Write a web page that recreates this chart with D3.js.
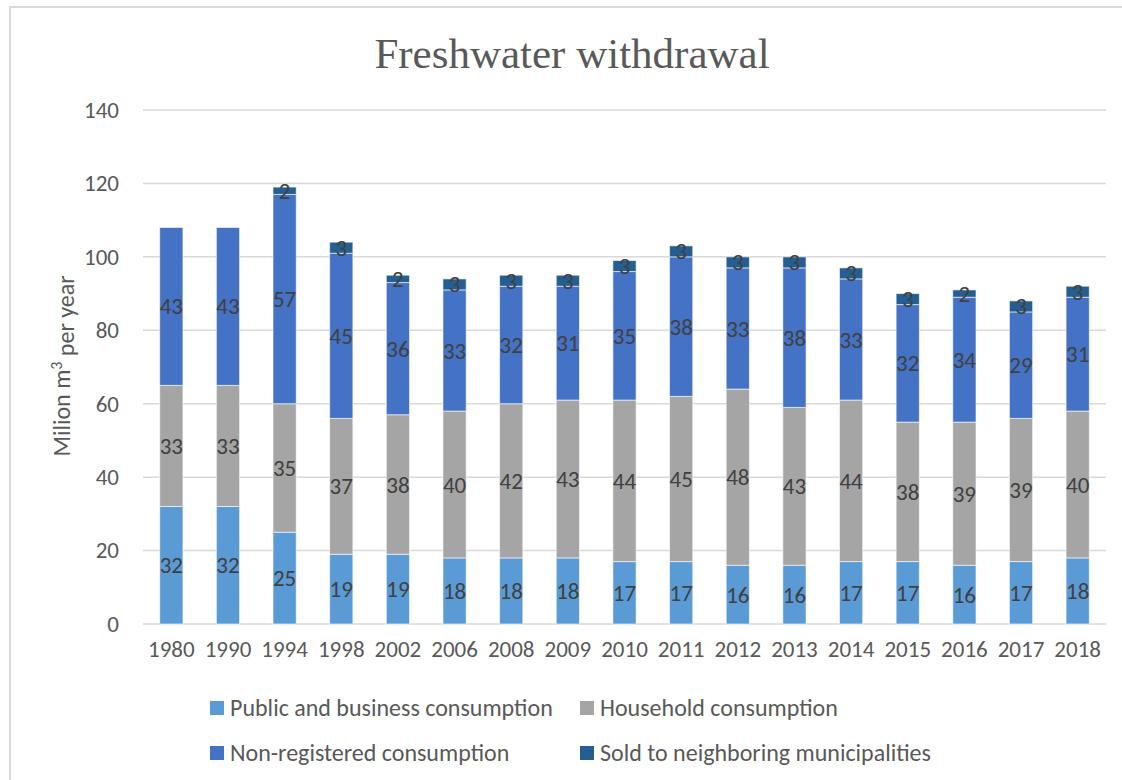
<!DOCTYPE html>
<html>
<head>
<meta charset="utf-8">
<script src="https://cdn.jsdelivr.net/npm/d3@7"></script>
<style>
    body { margin: 0; background: #fff; }
    text { font-family: Carlito, Lato, "Open Sans", sans-serif; }
</style>
</head>
<body>
<svg id="chart" width="1122" height="780"></svg>
<script>
    // data
    var years = ["1980", "1990", "1994", "1998", "2002", "2006", "2008", "2009", "2010", "2011", "2012", "2013", "2014", "2015", "2016", "2017", "2018"];
    var publicBusiness = [32, 32, 25, 19, 19, 18, 18, 18, 17, 17, 16, 16, 17, 17, 16, 17, 18];
    var household = [33, 33, 35, 37, 38, 40, 42, 43, 44, 45, 48, 43, 44, 38, 39, 39, 40];
    var nonRegistered = [43, 43, 57, 45, 36, 33, 32, 31, 35, 38, 33, 38, 33, 32, 34, 29, 31];
    var soldNeighbours = [0, 0, 2, 3, 2, 3, 3, 3, 3, 3, 3, 3, 3, 3, 2, 3, 3];
    var seriesNames = ["Public and business consumption", "Household consumption", "Non-registered consumption", "Sold to neighboring municipalities"];
    var seriesColors = ["#5b9bd5", "#a5a5a5", "#4472c4", "#255e91"];
    var yTicks = [0, 20, 40, 60, 80, 100, 120, 140];

    var svg = d3.select("#chart");

    // outer frame
    svg.append("rect")
        .attr("x", 10).attr("y", 7)
        .attr("width", 1130).attr("height", 800)
        .attr("fill", "none").attr("stroke", "#d9d9d9").attr("stroke-width", 2);

    svg.append("text")
        .attr("x", 572).attr("y", 68)
        .attr("text-anchor", "middle")
        .style("font-family", "'Liberation Serif', 'Times New Roman', serif")
        .style("font-size", "43px")
        .attr("fill", "#595959")
        .text("Freshwater withdrawal");

    var x = d3.scaleBand().domain(years).range([143, 1106]).paddingInner(0.59).paddingOuter(0.295);
    var y = d3.scaleLinear().domain([0, 140]).range([624, 110]);

    // gridlines
    svg.append("g").selectAll("line")
        .data(yTicks).enter()
        .append("line")
        .attr("x1", 143).attr("x2", 1106)
        .attr("y1", function(d) { return y(d); })
        .attr("y2", function(d) { return y(d); })
        .attr("stroke", "#d9d9d9").attr("stroke-width", 1.5);

    // y axis labels
    var yAxis = svg.append("g")
        .attr("transform", "translate(130,0)")
        .call(d3.axisLeft(y).tickValues(yTicks).tickSize(0).tickPadding(11));
    yAxis.select(".domain").remove();
    yAxis.selectAll("text")
        .style("font-size", "23px")
        .style("font-family", "Carlito, Lato, 'Open Sans', sans-serif")
        .attr("fill", "#595959");

    // x axis labels
    var xAxis = svg.append("g")
        .attr("transform", "translate(0,624)")
        .call(d3.axisBottom(x).tickSize(0).tickPadding(17));
    xAxis.select(".domain").remove();
    xAxis.selectAll("text")
        .style("font-size", "23px")
        .style("font-family", "Carlito, Lato, 'Open Sans', sans-serif")
        .attr("fill", "#595959");

    // stack the series
    var rows = years.map(function(yr, i) {
        return { year: yr, s0: publicBusiness[i], s1: household[i], s2: nonRegistered[i], s3: soldNeighbours[i] };
    });
    var stacked = d3.stack().keys(["s0", "s1", "s2", "s3"])(rows);

    var layers = svg.append("g").selectAll("g")
        .data(stacked).enter()
        .append("g")
        .attr("fill", function(d, i) { return seriesColors[i]; });

    layers.selectAll("rect")
        .data(function(d) { return d; }).enter()
        .filter(function(d) { return d[1] - d[0] > 0; })
        .append("rect")
        .attr("x", function(d) { return x(d.data.year); })
        .attr("width", x.bandwidth())
        .attr("y", function(d) { return y(d[1]); })
        .attr("height", function(d) { return y(d[0]) - y(d[1]); })
        .attr("stroke", "#ffffff").attr("stroke-opacity", 0.6).attr("stroke-width", 1);

    layers.selectAll("text")
        .data(function(d) { return d; }).enter()
        .filter(function(d) { return d[1] - d[0] > 0; })
        .append("text")
        .attr("x", function(d) { return x(d.data.year) + x.bandwidth() / 2; })
        .attr("y", function(d) { return y((d[0] + d[1]) / 2); })
        .attr("dy", "0.35em")
        .attr("text-anchor", "middle")
        .attr("fill", "#404040")
        .style("font-size", "23px")
        .text(function(d) { return d[1] - d[0]; });

    // axis title
    var yt = svg.append("text")
        .attr("transform", "translate(70,366) rotate(-90)")
        .attr("text-anchor", "middle")
        .attr("fill", "#595959")
        .style("font-size", "24px");
    yt.append("tspan").text("Milion m");
    yt.append("tspan").attr("dy", "-0.5em").style("font-size", "16px").text("3");
    yt.append("tspan").attr("dy", "0.5em").text(" per year");

    // legend
    var legendPos = [[210, 708], [580, 708], [210, 753], [580, 753]];
    var legend = svg.append("g").selectAll("g")
        .data(seriesNames).enter()
        .append("g")
        .attr("transform", function(d, i) { return "translate(" + legendPos[i][0] + "," + legendPos[i][1] + ")"; });
    legend.append("rect")
        .attr("x", 0).attr("y", -7)
        .attr("width", 14).attr("height", 14)
        .attr("fill", function(d, i) { return seriesColors[i]; });
    legend.append("text")
        .attr("x", 20).attr("dy", "0.35em")
        .attr("fill", "#595959")
        .style("font-size", "24px")
        .text(function(d) { return d; });
</script>
</body>
</html>
